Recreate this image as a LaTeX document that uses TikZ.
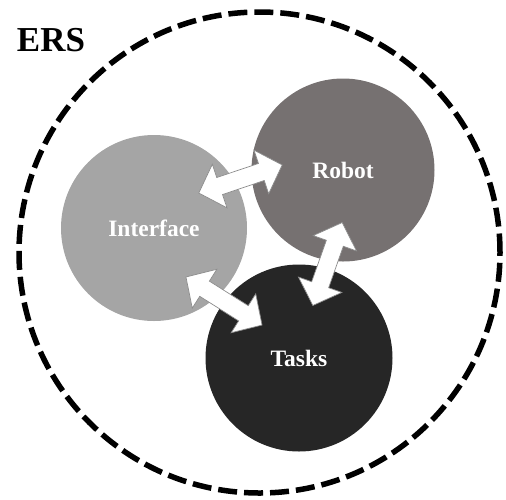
\documentclass[tikz,border=0pt]{standalone}
\usepackage{fontspec}
\setmainfont{Liberation Serif}
\definecolor{ifcol}{HTML}{A5A5A5}
\definecolor{robcol}{HTML}{767171}
\definecolor{taskcol}{HTML}{262626}
\definecolor{arrline}{HTML}{8C8C8C}
\begin{document}
\begin{tikzpicture}[x=1pt,y=-1pt,
  blob/.style={circle,inner sep=0pt,minimum size=#1,font=\fontsize{23.5}{27}\selectfont\bfseries,text=white},
  linkstyle/.style={draw=arrline,line width=0.7pt,fill=white,line join=miter},
  pics/blockarrow/.style={code={
    \coordinate (-centre) at (0,0);
    \draw[linkstyle] (-#1,0) -- (-#1+22,-23) -- (-#1+22,-9) -- (#1-22,-9) -- (#1-22,-23)
      -- (#1,0) -- (#1-22,23) -- (#1-22,9) -- (-#1+22,9) -- (-#1+22,23) -- cycle;}},
  boundary/.style={circle,draw=black,line width=5.5pt,dash pattern=on 19pt off 7pt,minimum size=481pt,inner sep=0pt}]
\useasboundingbox (0,0) rectangle (506,499);
\node[boundary] (ers) at (259.5,252.5) {};
\node[font=\fontsize{35}{40}\selectfont\bfseries] (erslabel) at (51,40) {ERS};
\node[blob=186pt,fill=ifcol] (interface) at (154,228) {Interface};
\node[blob=183pt,fill=robcol] (robot) at (343,170) {Robot};
\node[blob=187pt,fill=taskcol] (tasks) at (299,358) {Tasks};
\pic[rotate=18.6] (ir) at (240.5,179) {blockarrow=44};
\pic[rotate=-32.3] (it) at (224,301) {blockarrow=45};
\pic[rotate=70.5] (rt) at (327.5,264) {blockarrow=44};
\end{tikzpicture}
\end{document}
